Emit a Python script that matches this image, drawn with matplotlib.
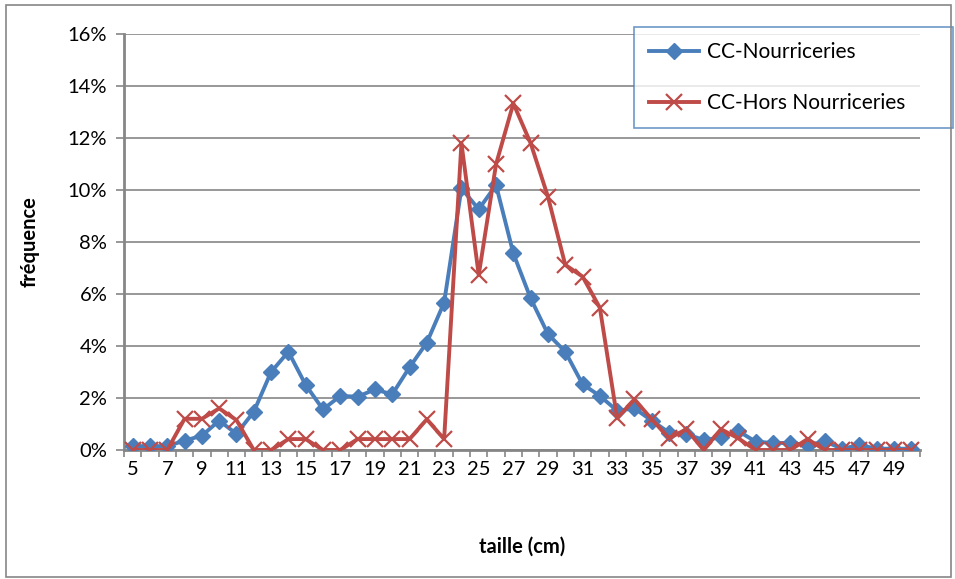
import numpy as np
import matplotlib
matplotlib.use("Agg")
import matplotlib.pyplot as plt
from matplotlib.ticker import PercentFormatter, FixedLocator, NullFormatter
from matplotlib.patches import Rectangle

plt.rcParams['font.family'] = ['Lato', 'DejaVu Sans']

# tailles (cm)
tailles = list(range(5, 51))

# frequences en %
nourriceries = [0.15, 0.15, 0.15, 0.36, 0.55, 1.13, 0.62, 1.47, 3.0, 3.78,
                2.5, 1.56, 2.08, 2.05, 2.33, 2.14, 3.18, 4.13, 5.67, 10.06,
                9.26, 10.19, 7.56, 5.83, 4.46, 3.78, 2.53, 2.08, 1.51, 1.6,
                1.13, 0.67, 0.62, 0.38, 0.49, 0.73, 0.32, 0.27, 0.27, 0.19,
                0.33, 0.05, 0.19, 0.05, 0.05, 0.05]
hors_nourriceries = [0, 0, 0, 1.2, 1.2, 1.6, 1.15, 0, 0, 0.42,
                     0.42, 0, 0, 0.42, 0.42, 0.42, 0.42, 1.18, 0.42, 11.8,
                     6.73, 10.99, 13.33, 11.8, 9.74, 7.12, 6.67, 5.47, 1.22, 1.95,
                     1.18, 0.45, 0.8, 0, 0.8, 0.45, 0, 0, 0, 0.42,
                     0, 0, 0, 0, 0, 0]

bleu = "#4A7EBB"
rouge = "#BE4B48"
gris = "#868686"

fig = plt.figure(figsize=(9.55, 5.79), dpi=100)
fig.patches.append(Rectangle((0.006, 0.004), 0.99, 0.988, transform=fig.transFigure,
                             fill=False, edgecolor=gris, linewidth=1.2))
ax = fig.add_axes([124/955, 1-450/579, (920-124)/955, (450-34)/579])

pos = np.arange(len(tailles))
ax.plot(pos, nourriceries, color=bleu, lw=2.8, marker="D", ms=8,
        mec=bleu, mfc=bleu, label="CC-Nourriceries", zorder=3)
ax.plot(pos, hors_nourriceries, color=rouge, lw=2.8, marker="x", ms=11,
        mew=1.6, mec=rouge, label="CC-Hors Nourriceries", zorder=4)

ax.set_xlim(-0.5, len(tailles) - 0.5)
ax.set_ylim(0, 16)
ax.yaxis.set_major_locator(FixedLocator(range(0, 17, 2)))
ax.yaxis.set_major_formatter(PercentFormatter(decimals=0))
ax.grid(axis="y", color=gris, lw=1.2)
ax.set_axisbelow(True)

# ticks entre les categories, etiquettes une sur deux
ax.set_xticks(np.arange(-0.5, len(tailles), 1))
ax.xaxis.set_major_formatter(NullFormatter())
ax.set_xticks(pos[::2], minor=True)
ax.set_xticklabels([str(t) for t in tailles[::2]], minor=True)
ax.tick_params(axis="x", which="minor", length=0, pad=8, labelsize=14.5)
ax.tick_params(axis="x", which="major", length=5, width=1.2, color=gris)
ax.tick_params(axis="y", length=6, width=1.2, color=gris, labelsize=14.5, pad=6)

for s in ["top", "right"]:
    ax.spines[s].set_visible(False)
for s in ["left", "bottom"]:
    ax.spines[s].set_color(gris)
    ax.spines[s].set_linewidth(2)

ax.set_xlabel("taille (cm)", fontsize=14.5, fontweight="bold")
ax.xaxis.set_label_coords(0.5, -(547 - 450) / 416, transform=ax.transAxes)
ax.xaxis.label.set_va("center")
ax.set_ylabel("fréquence", fontsize=14.5, fontweight="bold", labelpad=20)

leg = ax.legend(loc="center", bbox_to_anchor=(634/955, 1-127/579, (953-634)/955, (127-28)/579),
                bbox_transform=fig.transFigure, mode="expand", fontsize=15,
                frameon=True, fancybox=False, borderaxespad=0, handlelength=2.4,
                handletextpad=0.4, labelspacing=1.5, borderpad=0.7)
leg.get_frame().set_edgecolor(bleu)
leg.get_frame().set_linewidth(1.2)
leg.set_zorder(10)

fig.savefig("out.png", dpi=100)
